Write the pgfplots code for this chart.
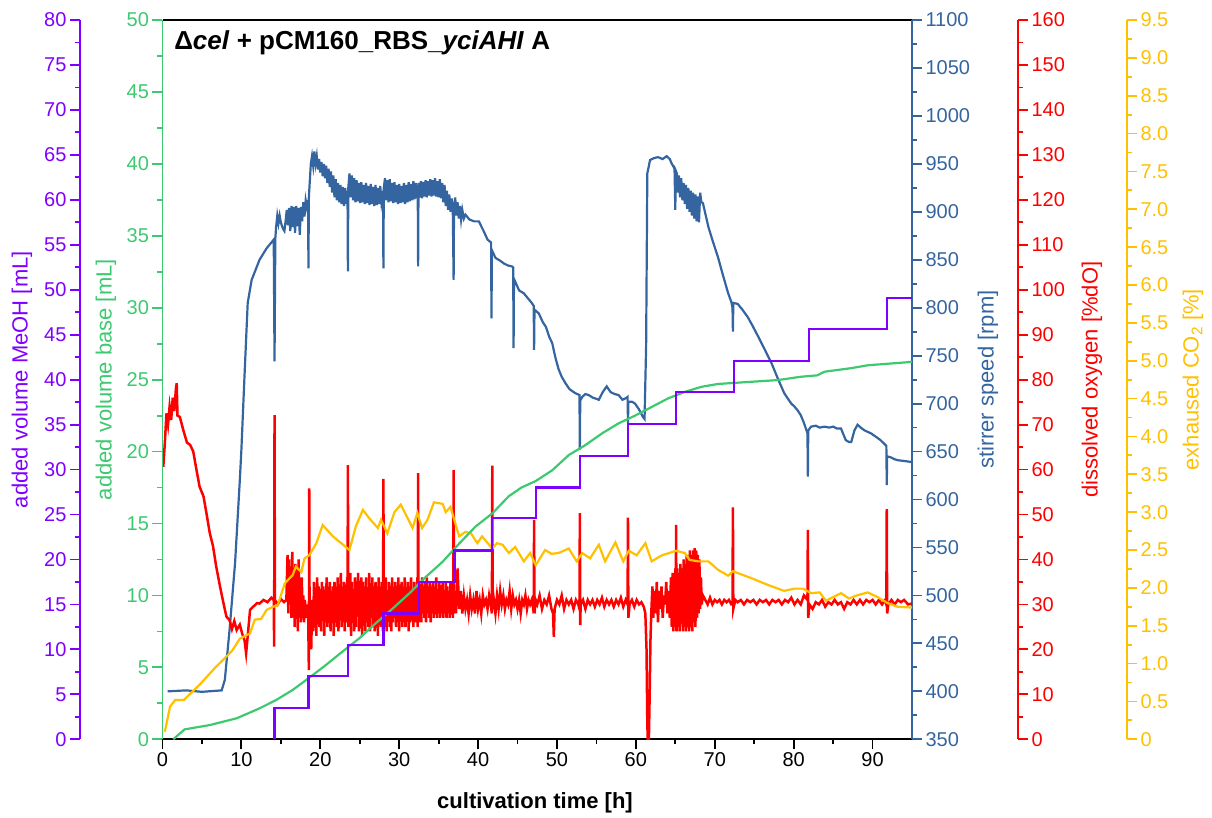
\documentclass[border=0pt]{standalone}
\usepackage{pgfplots}
\pgfplotsset{compat=1.18}
\usepackage{fontspec}
\setmainfont{Liberation Sans}
\definecolor{cPur}{RGB}{128,0,255}
\definecolor{cGrn}{RGB}{61,201,111}
\definecolor{cBlu}{RGB}{52,101,160}
\definecolor{cRed}{RGB}{255,0,0}
\definecolor{cYel}{RGB}{255,192,0}
\pgfplotsset{
  base/.style={scale only axis, width=749.5bp, height=719.3bp, xmin=0, xmax=95,
    at={(0,0)}, anchor=south west, tick align=outside,
    major tick length=10bp, minor tick length=5bp,
    /pgf/number format/assume math mode=true, /pgf/number format/1000 sep={},
    ticklabel style={font=\fontsize{20bp}{24bp}\selectfont},
  },
  yax/.style 2 args={axis x line=none, y axis line style={draw=#1,line width=1.8bp},
    tick style={draw=#1,line width=1.8bp}, yticklabel style={text=#1},
    every axis y label/.style={at={(axis description cs:#2,0.5)}, anchor=center, rotate=90,
      text=#1, font=\fontsize{22bp}{26bp}\selectfont},
    minor y tick num=1},
}
\begin{document}
\begin{tikzpicture}
\useasboundingbox (-162.5bp,-78.7bp) rectangle (1049.5bp,739.3bp);
% x axis, frame, title
\begin{axis}[base, axis y line=none, axis x line*=bottom, clip mode=individual,
  x axis line style={draw=black,line width=1.8bp}, tick style={draw=black,line width=1.8bp},
  xtick={0,10,...,90}, minor x tick num=1, ymin=0, ymax=1,
  xlabel={cultivation time [h]},
  every axis x label/.style={at={(axis description cs:0.497,0)}, anchor=center, yshift=-64bp,
    font=\fontsize{22bp}{26bp}\selectfont\bfseries}]
\draw[black,line width=1.8bp] (rel axis cs:0,1) -- (rel axis cs:1,1);
\node[anchor=west, font=\fontsize{26bp}{30bp}\selectfont\bfseries] at (axis description cs:0.011,0.968)
  {Δ\textit{cel} + pCM160\_RBS\_\textit{yciAHI} A};
\end{axis}
% stirrer speed
\begin{axis}[base, yax={cBlu}{1.1014}, axis y line*=right, ymin=350, ymax=1100,
  ytick distance=50, ylabel={stirrer speed [rpm]}]
\addplot[cBlu, line width=2.2bp] coordinates {
(0.66,400)(3.0,401)(5.0,399.5)(7.5,401)(7.9,412)(8.5,464)(9.2,534)(9.8,620)(10.0,652)(10.4,730)
(10.8,805)(11.3,829)(12.3,850)(13.2,862)(14.1,871)(14.2,744)(14.3,872)
(14.4,884)(14.55,896)(14.7,888)(14.85,896)(15.0,889)(15.15,885)(15.3,882)(15.45,880)(15.6,890)
(15.75,902)(15.9,886)(16.05,904)(16.2,880)(16.35,906)(16.5,884)(16.65,905)(16.8,878)(16.95,906)
(17.1,885)(17.25,904)(17.4,876)(17.55,905)(17.7,890)(17.85,910)(18.0,895)(18.15,912)(18.3,905)
(18.45,912)(18.5,841)(18.55,915)
(18.8,950)(18.95,958)(19.1,948)(19.25,963)(19.4,950)(19.55,958)(19.7,944)(19.85,955)(20.0,941)
(20.15,952)(20.3,937)(20.45,950)(20.6,935)(20.75,948)(20.9,930)(21.05,945)(21.2,926)(21.35,942)
(21.5,920)(21.65,938)(21.8,915)(21.95,934)(22.1,912)(22.25,930)(22.4,910)(22.55,928)(22.7,908)
(22.85,926)(23.0,906)(23.15,925)(23.3,908)(23.45,922)(23.5,838)(23.55,925)(23.7,940)(23.85,915)
(24.0,938)(24.15,912)(24.3,935)(24.45,910)(24.6,933)(24.75,911)(24.9,930)(25.05,909)(25.2,931)
(25.35,910)(25.5,928)(25.65,908)(25.8,930)(25.95,909)(26.1,927)(26.25,907)(26.4,929)(26.55,908)
(26.7,926)(26.85,906)(27.0,928)(27.15,907)(27.3,925)(27.45,908)(27.6,927)(27.75,910)(27.95,922)
(28.0,841)(28.05,925)(28.2,935)(28.35,912)(28.5,933)(28.65,910)(28.8,934)(28.95,911)(29.1,930)
(29.25,909)(29.4,931)(29.55,910)(29.7,928)(29.85,908)(30.0,929)(30.15,909)(30.3,927)(30.45,910)
(30.6,930)(30.75,908)(30.9,928)(31.05,910)(31.2,931)(31.35,911)(31.5,929)(31.65,912)(31.8,932)
(31.95,913)(32.1,930)(32.25,914)(32.35,928)(32.4,843)(32.45,930)(32.6,915)(32.75,932)(32.9,914)
(33.05,931)(33.2,916)(33.35,933)(33.5,915)(33.65,932)(33.8,917)(33.95,934)(34.1,916)(34.25,933)
(34.4,917)(34.55,935)(34.7,916)(34.85,932)(35.0,915)(35.15,934)(35.3,914)(35.45,930)(35.6,910)
(35.75,928)(35.9,906)(36.05,922)(36.2,902)(36.35,918)(36.5,900)(36.65,914)(36.8,898)(36.9,829)
(36.95,905)(37.1,915)(37.25,896)(37.4,910)(37.55,893)(37.7,906)(37.85,892)(38.0,902)(38.2,893)
(38.4,897)(38.9,892)(39.5,890)(40.1,890)(40.7,880)(41.2,871)(41.65,868)(41.7,789)(41.75,860)
(42.2,852)(42.8,849)(43.3,846)(43.8,844)(44.3,843)(44.45,842)(44.5,758)(44.55,830)(45.2,818)
(45.8,815)(46.3,810)(46.8,805)(47.05,802)(47.1,756)(47.15,798)(47.7,794)(48.2,785)(48.6,780)
(49.0,770)(49.4,763)(49.8,748)(50.2,736)(50.6,728)(51.1,721)(51.6,715)(52.3,711)(52.85,709)
(52.9,652)(52.95,703)(53.2,707)(53.6,710)(54.0,709)(54.6,706)(55.0,705)(55.3,704)(55.8,712)
(56.3,718)(56.8,712)(57.3,710)(57.8,709)(58.3,704)(58.8,706)(58.95,707)(59.0,680)(59.05,702)
(59.5,702)(59.9,700)(60.4,694)(60.9,686)(61.1,684)(61.3,760)(61.45,940)(61.8,954)(62.3,956)
(62.8,957)(63.4,955)(63.9,958)(64.3,955)(64.5,951)(64.9,945)(65.0,902)(65.05,943)(65.2,940)
(65.3,920)(65.45,938)(65.6,915)(65.75,935)(65.9,912)(66.05,930)(66.2,908)(66.35,928)(66.5,903)
(66.65,925)(66.8,900)(66.95,922)(67.1,896)(67.25,920)(67.4,893)(67.55,918)(67.7,890)(67.85,916)
(68.0,889)(68.15,920)(68.3,910)(68.5,909)(69.2,884)(69.8,868)(70.4,853)(71.0,835)(71.7,815)
(72.1,806)(72.25,800)(72.3,775)(72.35,805)(72.9,804)(73.5,798)(74.2,790)(74.8,781)(75.5,770)
(76.3,757)(77.2,742)(78.0,726)(78.8,711)(79.2,706)(79.7,700)(80.1,697)(80.5,693)(80.9,688)
(81.3,680)(81.75,669)(81.8,624)(81.85,672)(82.2,676)(82.8,677)(83.3,675)(83.9,676)(84.5,675)
(85.0,676)(85.5,674)(86.0,674)(86.3,668)(86.6,662)(87.0,660)(87.3,660)(87.7,672)(88.1,678)
(88.5,675)(89.0,672)(89.8,669)(90.5,665)(91.0,662)(91.5,658)(91.75,656)(91.8,615)(91.85,645)
(92.3,644)(92.8,642)(93.2,641)(94.2,640)(95.0,639)};
\end{axis}
% dissolved oxygen
\begin{axis}[base, yax={cRed}{1.2402}, axis y line*=right, axis y line shift=106bp,
  ymin=0, ymax=160, ytick distance=10, ylabel={dissolved oxygen [\%dO]}]
\addplot[cRed, line width=2.5bp] coordinates {
(0.1,60.6)(0.3,66)(0.5,72.5)(0.7,70)(0.9,74)(1.1,71)(1.3,76)(1.5,73)(1.7,78)(1.8,79.2)(1.9,72)
(2.2,71.7)(2.6,69)(3.1,66)(3.5,65.5)(3.9,64)(4.3,60)(4.7,56.2)(5.2,54)(5.6,50)(6.0,45.8)(6.4,43)
(6.8,38.5)(7.3,33.9)(7.7,30.5)(8.1,27.3)(8.5,26.5)(8.8,24.5)(9.1,26.3)(9.4,24.3)(9.8,25.5)
(10.1,23.5)(10.4,22)(10.6,19.1)(10.8,23)(11.1,28.8)(11.5,29.5)(12.0,30.3)(12.3,30.2)(12.8,31)
(13.3,30.5)(13.8,31.5)(14.1,31)(14.15,20.6)(14.2,72.1)(14.25,31)(14.6,30)(15.0,31.2)(15.4,30.5)
(15.7,31)(15.85,41)(15.95,28)(16.05,40)(16.15,30)(16.25,38)(16.35,27)(16.45,41.7)(16.55,29)
(16.65,36)(16.75,25)(16.85,39)(16.95,28)(17.05,35)(17.15,24)(17.25,40)(17.35,27)(17.45,33)
(17.55,26)(17.65,36)(17.75,29)(17.85,32)(17.95,26)(18.05,31)(18.15,27)(18.25,30)(18.35,28)
(18.45,30)(18.55,15.4)(18.6,55.8)(18.65,22)(18.75,31)(18.85,20)(18.95,29)
(19.0,31)(19.1,24)(19.2,35)(19.3,26)(19.4,33)(19.5,23)(19.6,36)(19.7,27)(19.8,34)(19.9,25)
(20.0,32)(20.1,24)(20.2,35)(20.3,28)(20.4,34)(20.5,23)(20.6,33)(20.7,26)(20.8,36)(20.9,25)
(21.0,31)(21.1,27)(21.2,35)(21.3,24)(21.4,33)(21.5,26)(21.6,34)(21.7,23)(21.8,35)(21.9,27)
(22.0,32)(22.1,25)(22.2,36)(22.3,24)(22.4,33)(22.5,27)(22.6,37)(22.7,25)(22.8,34)(22.9,26)
(23.0,35)(23.1,24)(23.2,33)(23.3,27)(23.4,36)(23.45,26)(23.5,61)(23.55,25)(23.6,34)(23.7,26)
(23.8,37)(23.9,23)(24.0,35)(24.1,27)(24.2,33)(24.3,24)(24.4,36)(24.5,25)(24.6,34)(24.7,28)
(24.8,37)(24.9,24)(25.0,33)(25.1,26)(25.2,36)(25.3,23)(25.4,35)(25.5,27)(25.6,34)(25.7,24)
(25.8,36)(25.9,26)(26.0,33)(26.1,25)(26.2,37)(26.3,24)(26.4,34)(26.5,27)(26.6,36)(26.7,25)
(26.8,33)(26.9,24)(27.0,35)(27.1,26)(27.2,34)(27.3,23)(27.4,36)(27.5,27)(27.6,33)(27.7,25)
(27.8,35)(27.9,26)(27.95,24)(28.0,57.9)(28.05,25)(28.1,34)(28.2,26)(28.3,36)(28.4,24)(28.5,33)
(28.6,27)(28.7,35)(28.8,25)(28.9,34)(29.0,24)(29.1,36)(29.2,26)(29.3,33)(29.4,27)(29.5,35)
(29.6,25)(29.7,34)(29.8,26)(29.9,36)(30.0,24)(30.1,33)(30.2,27)(30.3,35)(30.4,25)(30.5,34)
(30.6,26)(30.7,36)(30.8,25)(30.9,33)(31.0,27)(31.1,35)(31.2,24)(31.3,34)(31.4,26)(31.5,36)
(31.6,27)(31.7,33)(31.8,25)(31.9,35)(32.0,26)(32.1,34)(32.2,27)(32.3,36)(32.35,25)(32.4,59.2)
(32.45,26)(32.5,34)(32.6,27)(32.7,35)(32.8,26)(32.9,36)(33.0,28)(33.1,34)(33.2,27)(33.3,35)
(33.4,26)(33.5,36)(33.6,28)(33.7,34)(33.8,27)(33.9,35)(34.0,26)(34.1,33)(34.2,28)(34.3,35)
(34.4,27)(34.5,34)(34.6,28)(34.7,36)(34.8,27)(34.9,33)(35.0,28)(35.1,35)(35.2,27)(35.3,34)
(35.4,28)(35.5,35)(35.6,27)(35.7,33)(35.8,28)(35.9,35)(36.0,27)(36.1,34)(36.2,28)(36.3,33)
(36.4,27)(36.5,35)(36.6,28)(36.7,33)(36.8,27)(36.85,30)(36.9,59.9)(36.95,28)(37.0,33)
(37.2,28)(37.4,38)(37.6,29)(37.8,33)(38.0,28)(38.2,32)(38.4,29)(38.6,31)(38.8,28)(39.0,32)
(39.2,29)(39.4,31)(39.6,28)(39.8,33)(40.0,29)(40.2,31)(40.4,28)(40.6,32)(40.8,30)(41.0,31)
(41.2,29)(41.4,32)(41.6,30)(41.75,28)(41.8,60.9)(41.85,29)(42.0,31)(42.2,28)(42.4,32)(42.6,29)
(42.8,33)(43.0,30)(43.2,32)(43.4,29)(43.6,31)(43.8,30)(44.0,33)(44.2,29)(44.4,32)(44.6,30)
(44.8,31)(45.0,29)(45.2,31)(45.4,28)(45.6,31)(45.8,30)(46.0,32)(46.2,29)(46.4,31)(46.6,30)
(46.8,31)(47.0,29)(47.05,28)(47.1,48.8)(47.15,28)(47.3,31)(47.5,30)(47.8,32)(48.1,29)(48.4,31)
(48.7,30)(49.0,32)(49.3,29)(49.5,28)(49.6,22.8)(49.7,29)(50.0,31)(50.3,30)(50.6,32)(50.9,29)
(51.2,31)(51.5,30)(51.8,31)(52.1,29)(52.4,31)(52.7,30)(52.85,29)(52.9,50.3)(52.95,25.4)(53.0,30)
(53.3,31)(53.6,29)(53.9,31)(54.2,30)(54.5,31)(54.8,29.5)(55.1,31)(55.4,30)(55.7,31.5)(56.0,29.5)
(56.3,31)(56.6,30)(56.9,31)(57.2,29.5)(57.5,31)(57.8,30)(58.1,31.5)(58.4,29.5)(58.7,31)
(58.95,30)(59.0,49.3)(59.05,27)(59.2,30)(59.5,31)(59.8,29.5)(60.1,31)(60.4,30)(60.7,30.5)
(61.0,29.5)(61.2,28)(61.35,20)(61.45,4)(61.5,0)(61.65,0)(61.75,10)(61.85,22)(61.95,28)(62.1,34)
(62.2,27)(62.35,33)(62.5,28)(62.65,35)(62.8,26)(62.95,33)(63.1,29)(63.25,34)(63.4,27)(63.55,32)
(63.7,30)(63.85,35)(64.0,28)(64.15,33)(64.3,27)(64.45,36)(64.55,25)(64.65,37)(64.75,24)(64.85,35)
(64.95,26)(65.0,38)(65.05,25)(65.1,47.7)(65.15,24)(65.25,38)(65.35,25)(65.45,37)(65.55,24)
(65.65,39)(65.75,26)(65.85,38)(65.95,24)(66.05,40)(66.15,25)(66.25,39)(66.35,24)(66.45,41)
(66.55,25)(66.65,40)(66.75,24)(66.85,42)(66.95,25)(67.05,41)(67.15,24)(67.25,42)(67.35,26)
(67.45,42.5)(67.55,25)(67.65,42)(67.75,27)(67.85,41)(67.95,28)(68.05,40)(68.15,29)(68.25,36)
(68.35,30)(68.5,32)(68.8,31)(69.1,30)(69.4,31.5)(69.7,30)(70.0,31)(70.3,30.5)(70.6,31)(70.9,30)
(71.2,31)(71.5,30.5)(71.8,31)(72.1,30)(72.25,30)(72.3,51.6)(72.35,29)(72.6,31)(72.9,30.5)
(73.3,31)(73.7,30)(74.1,31)(74.5,30.5)(74.9,31)(75.3,30)(75.7,31)(76.1,30.5)(76.5,31)(76.9,30)
(77.3,31)(77.7,30.5)(78.1,31)(78.5,30)(78.9,31)(79.3,30.5)(79.7,31.5)(80.1,30)(80.5,31)(80.9,30)
(81.3,32)(81.75,31)(81.8,46.6)(81.85,27)(82.0,30)(82.4,29)(82.8,30.5)(83.2,30)(83.6,31)(84.0,29.5)
(84.4,30.5)(84.8,30)(85.2,31)(85.6,30)(86.0,30.5)(86.4,29)(86.8,30.5)(87.2,30)(87.6,31)(88.0,30)
(88.4,31)(88.8,30)(89.2,31)(89.6,30.5)(90.0,31)(90.4,30)(90.8,31)(91.2,30)(91.6,31)(91.75,30)
(91.8,51.2)(91.85,28)(92.0,30)(92.4,31)(92.8,30)(93.2,31)(93.6,30.5)(94.0,31)(94.5,30)(95.0,30.2)};
\end{axis}
% exhausted CO2
\begin{axis}[base, yax={cYel}{1.3749}, axis y line*=right, axis y line shift=215bp,
  ymin=0, ymax=9.5, ytick={0,0.5,...,9.5},
  yticklabels={0,0.5,1.0,1.5,2.0,2.5,3.0,3.5,4.0,4.5,5.0,5.5,6.0,6.5,7.0,7.5,8.0,8.5,9.0,9.5},
  ylabel={exhaused CO\textsubscript{2} [\%]}]
\addplot[cYel, line width=2.2bp] coordinates {
(0.3,0.1)(0.95,0.43)(1.6,0.52)(2.7,0.52)(4.7,0.72)(6.8,0.96)(7.7,1.05)(8.9,1.18)(9.8,1.33)
(11.1,1.4)(11.7,1.58)(12.5,1.59)(13.2,1.71)(14.0,1.75)(14.6,1.77)(15.5,2.06)(16.5,2.17)(16.9,2.28)
(17.6,2.21)(18.0,2.39)(18.6,2.43)(19.5,2.59)(20.3,2.83)(21.6,2.68)(23.7,2.5)(24.5,2.81)(25.4,3.03)
(26.2,2.92)(27.3,2.79)(27.7,2.9)(28.5,2.72)(29.4,3.0)(30.2,3.1)(31.7,2.79)(32.3,2.99)(32.9,2.79)
(33.6,2.9)(34.4,3.13)(35.5,3.11)(35.9,3.0)(36.5,3.07)(37.6,2.68)(38.4,2.74)(39.1,2.72)(39.9,2.59)
(40.5,2.68)(41.8,2.52)(42.4,2.59)(43.1,2.57)(43.9,2.46)(44.7,2.54)(45.8,2.35)(46.6,2.46)(47.3,2.3)
(48.5,2.5)(49.3,2.45)(50.2,2.46)(51.5,2.52)(52.5,2.35)(53.2,2.46)(54.2,2.39)(55.3,2.57)(56.1,2.35)
(57.4,2.6)(58.4,2.35)(59.1,2.49)(60.1,2.43)(61.2,2.59)(62.0,2.35)(63.3,2.43)(65.1,2.49)(66.2,2.46)
(66.8,2.37)(67.9,2.35)(69.2,2.35)(70.4,2.24)(71.7,2.16)(72.3,2.22)(74.6,2.13)(76.7,2.04)(78.8,1.96)
(80.1,1.99)(81.2,1.99)(82.2,1.93)(83.3,1.94)(84.1,1.83)(86.0,1.93)(87.0,1.86)(88.0,1.9)(89.4,1.94)
(90.6,1.88)(91.9,1.8)(93.2,1.75)(95.0,1.74)};
\end{axis}
% added volume base
\begin{axis}[base, yax={cGrn}{-0.0754}, axis y line*=left, ymin=0, ymax=50,
  ytick distance=5, ylabel={added volume base [mL]}]
\addplot[cGrn, line width=2.2bp] coordinates {
(1.36,0)(2.8,0.69)(6.0,0.99)(9.4,1.46)(12.3,2.15)(14.4,2.73)(16.5,3.43)(18.6,4.28)(20.7,5.16)
(22.8,6.09)(24.9,7.0)(27.1,8.1)(29.2,9.1)(31.3,10.15)(33.4,11.3)(35.5,12.34)(37.6,13.6)(39.7,14.8)
(41.8,15.7)(43.9,16.9)(45.5,17.5)(47.3,17.95)(49.4,18.7)(51.5,19.76)(53.6,20.45)(55.7,21.26)
(57.8,21.96)(59.9,22.5)(62.0,23.1)(64.1,23.7)(66.2,24.15)(68.3,24.5)(70.4,24.7)(74.6,24.85)
(78.0,24.97)(80.9,25.2)(83.0,25.3)(83.9,25.55)(87.3,25.8)(89.4,26.0)(94.2,26.2)(95.0,26.25)};
\end{axis}
% added volume MeOH
\begin{axis}[base, yax={cPur}{-0.1875}, axis y line*=left, axis y line shift=82.5bp,
  ymin=0, ymax=80, ytick distance=5, ylabel={added volume MeOH [mL]}]
\addplot[cPur, line width=2.2bp, const plot mark left] coordinates {
(14.2,0)(14.2,3.5)(18.5,7.0)(23.5,10.5)(28.0,14.0)(32.5,17.5)(37.0,21.0)(41.8,24.6)(47.3,28.0)
(52.9,31.5)(59.0,35.1)(65.1,38.6)(72.4,42.1)(81.9,45.6)(91.8,49.1)(95,49.1)};
\end{axis}
\end{tikzpicture}
\end{document}
